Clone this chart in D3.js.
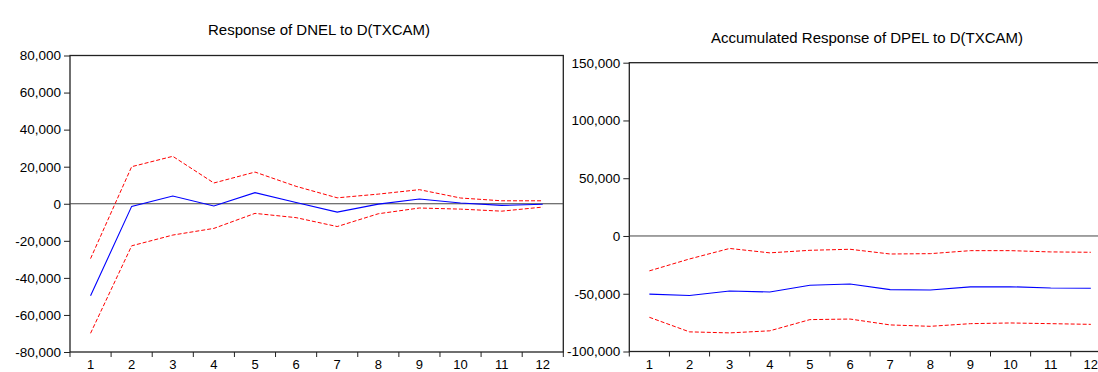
<!DOCTYPE html>
<html>
<head>
<meta charset="utf-8">
<script src="https://cdn.jsdelivr.net/npm/d3@7"></script>
<style>
  body { margin: 0; background: #fff; }
  svg { display: block; font-family: "Liberation Sans", Arial, sans-serif; }
</style>
</head>
<body>
<script>
// periods on the x axis
const periods = ["1", "2", "3", "4", "5", "6", "7", "8", "9", "10", "11", "12"];

// left panel: Response of DNEL to D(TXCAM)
const dnelResp  = [-49700, -1400, 4200, -1200, 6000, 700, -4500, -200, 2600, 400, -900, -300];
const dnelUpper = [-29600, 20000, 25600, 11200, 17100, 9400, 3200, 5200, 7600, 3100, 1600, 1600];
const dnelLower = [-69900, -22700, -16900, -13300, -5200, -7500, -12300, -5400, -2300, -2900, -4000, -1800];
const dnelTicks = [-80000, -60000, -40000, -20000, 0, 20000, 40000, 60000, 80000];

// right panel: Accumulated Response of DPEL to D(TXCAM)
const dpelResp  = [-50300, -51500, -47600, -48500, -42600, -41600, -46400, -46700, -44100, -43900, -45000, -45300];
const dpelUpper = [-30200, -19900, -10800, -14600, -12400, -11500, -15600, -15300, -12700, -12700, -13800, -14100];
const dpelLower = [-70400, -83000, -83900, -82100, -72400, -71900, -77000, -78200, -75900, -75300, -75900, -76500];
const dpelTicks = [-100000, -50000, 0, 50000, 100000, 150000];

const W = 1098, H = 372;
const svg = d3.select("body").append("svg").attr("width", W).attr("height", H);

const fmt = d => d3.format(",")(d).replace("\u2212", "-");

function drawPanel(p) {
  let x = d3.scaleBand().domain(periods).range([p.left, p.right]).padding(0);
  let y = d3.scaleLinear().domain([p.ticks[0], p.ticks[p.ticks.length - 1]]).range([p.bottom, p.top]);

  let g = svg.append("g");

  // title
  g.append("text")
    .attr("x", p.titleX)
    .attr("y", p.titleY)
    .attr("text-anchor", "middle")
    .attr("font-size", "15px")
    .attr("fill", "#000")
    .text(p.title);

  // frame
  g.append("rect")
    .attr("x", p.left)
    .attr("y", p.top)
    .attr("width", p.right - p.left)
    .attr("height", p.bottom - p.top)
    .attr("fill", "none")
    .attr("stroke", "#222")
    .attr("stroke-width", 1.3);

  // y axis
  let yAxis = d3.axisLeft(y).tickValues(p.ticks).tickFormat(fmt).tickSize(6).tickPadding(3).tickSizeOuter(0);
  let ya = g.append("g")
    .attr("transform", "translate(" + p.left + ",0)")
    .call(yAxis);
  ya.select(".domain").remove();
  ya.selectAll("line").attr("stroke", "#222");
  ya.selectAll("text").attr("font-size", "13.5px").attr("fill", "#000").attr("font-family", "Liberation Sans, Arial, sans-serif");

  // x axis: labels centred in bands, ticks on band edges
  let xAxis = d3.axisBottom(x).tickSize(0).tickPadding(8);
  let xa = g.append("g")
    .attr("transform", "translate(0," + p.bottom + ")")
    .call(xAxis);
  xa.select(".domain").remove();
  xa.selectAll("text").attr("font-size", "13px").attr("fill", "#000").attr("font-family", "Liberation Sans, Arial, sans-serif");

  let edges = periods.map(d => x(d)).concat([x(periods[periods.length - 1]) + x.bandwidth()]);
  g.selectAll(".xedge")
    .data(edges)
    .enter()
    .append("line")
    .attr("class", "xedge")
    .attr("x1", d => d)
    .attr("x2", d => d)
    .attr("y1", p.bottom)
    .attr("y2", p.bottom + 5)
    .attr("stroke", "#222");

  // zero line
  g.append("line")
    .attr("x1", p.left)
    .attr("x2", p.right)
    .attr("y1", y(0))
    .attr("y2", y(0))
    .attr("stroke", "#444")
    .attr("stroke-width", 1);

  let line = d3.line()
    .x((d, i) => x(periods[i]) + x.bandwidth() / 2)
    .y(d => y(d));

  g.append("path")
    .datum(p.upper)
    .attr("d", line)
    .attr("fill", "none")
    .attr("stroke", "#ff0000")
    .attr("stroke-width", 1)
    .attr("stroke-dasharray", "4,2");

  g.append("path")
    .datum(p.lower)
    .attr("d", line)
    .attr("fill", "none")
    .attr("stroke", "#ff0000")
    .attr("stroke-width", 1)
    .attr("stroke-dasharray", "4,2");

  g.append("path")
    .datum(p.resp)
    .attr("d", line)
    .attr("fill", "none")
    .attr("stroke", "#0000ff")
    .attr("stroke-width", 1.1);
}

drawPanel({
  title: "Response of DNEL to D(TXCAM)",
  titleX: 319, titleY: 35,
  left: 70, right: 563.3, top: 55.5, bottom: 352,
  ticks: dnelTicks,
  resp: dnelResp, upper: dnelUpper, lower: dnelLower
});

drawPanel({
  title: "Accumulated Response of DPEL to D(TXCAM)",
  titleX: 867, titleY: 43,
  left: 629.3, right: 1110.9, top: 62.7, bottom: 351.5,
  ticks: dpelTicks,
  resp: dpelResp, upper: dpelUpper, lower: dpelLower
});
</script>
</body>
</html>
